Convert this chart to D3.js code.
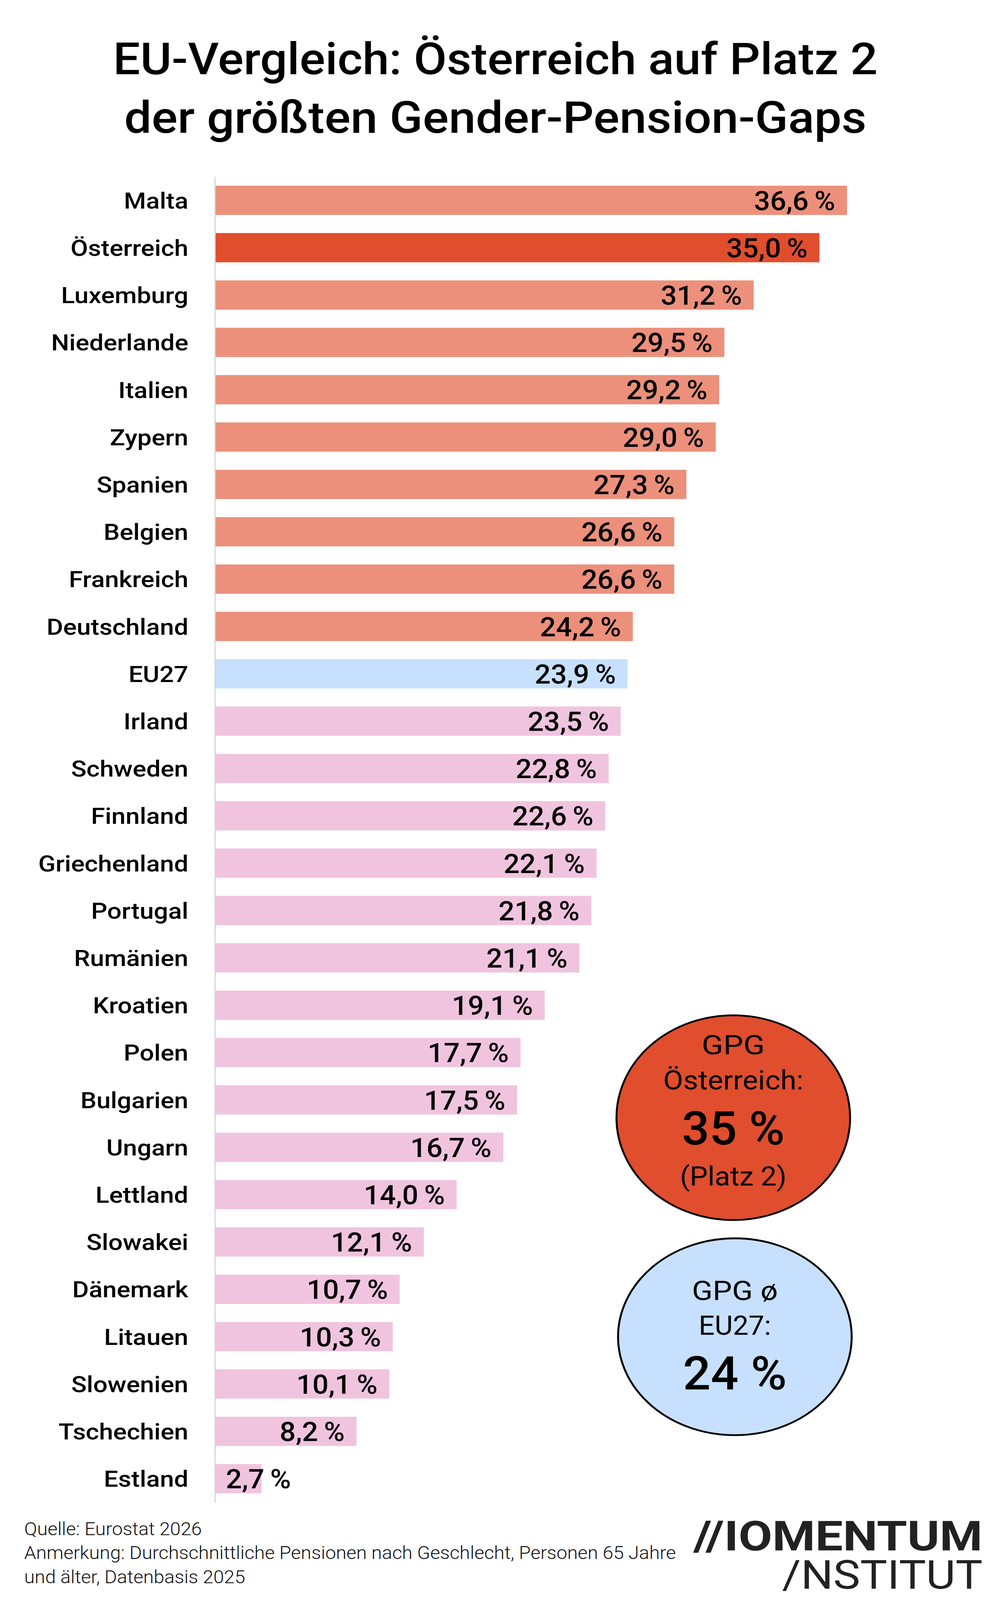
<!DOCTYPE html>
<html>
<head>
<meta charset="utf-8">
<script src="https://cdn.jsdelivr.net/npm/d3@7"></script>
<style>
  html, body { margin: 0; padding: 0; background: #ffffff; overflow: hidden; }
  svg { display: block; }
  text { font-family: Roboto, "Noto Sans", sans-serif; }
</style>
</head>
<body>
<svg id="chart"></svg>
<script>
// ---------- data ----------
const categories = ["Malta","Österreich","Luxemburg","Niederlande","Italien","Zypern","Spanien","Belgien","Frankreich","Deutschland","EU27","Irland","Schweden","Finnland","Griechenland","Portugal","Rumänien","Kroatien","Polen","Bulgarien","Ungarn","Lettland","Slowakei","Dänemark","Litauen","Slowenien","Tschechien","Estland"];
const values = [36.6,35.0,31.2,29.5,29.2,29.0,27.3,26.6,26.6,24.2,23.9,23.5,22.8,22.6,22.1,21.8,21.1,19.1,17.7,17.5,16.7,14.0,12.1,10.7,10.3,10.1,8.2,2.7];
const groups = ["top","at","top","top","top","top","top","top","top","top","eu","rest","rest","rest","rest","rest","rest","rest","rest","rest","rest","rest","rest","rest","rest","rest","rest","rest"];
const titleLines = ["EU-Vergleich: Österreich auf Platz 2", "der größten Gender-Pension-Gaps"];
const sourceLines = ["Quelle: Eurostat 2026", "Anmerkung: Durchschnittliche Pensionen nach Geschlecht, Personen 65 Jahre", "und älter, Datenbasis 2025"];
const austriaBadge = ["GPG", "Österreich:", "35 %", "(Platz 2)"];
const euBadge = ["GPG ø", "EU27:", "24 %"];
const logoLines = ["//IOMENTUM", "/NSTITUT"];

// ---------- styles ----------
const W = 2552, H = 4455;
const colors = { top: "#EC907B", at: "#E04E2E", eu: "#C7E0FD", rest: "#F0C4DF" };

// fit the whole 2552x4455 design into the actual viewport
const vpW = window.innerWidth || W, vpH = window.innerHeight || H;
const svg = d3.select("#chart")
  .attr("width", vpW).attr("height", vpH)
  .attr("viewBox", `0 0 ${W} ${H}`)
  .attr("preserveAspectRatio", "none");
svg.append("rect").attr("width", W).attr("height", H).attr("fill", "#fff");

const locale = d3.formatLocale({ decimal: ",", thousands: ".", grouping: [3], currency: ["", " €"] });
const fmt = locale.format(".1f");

function fitWidth(sel, target) {
  sel.each(function () {
    const w = this.getComputedTextLength();
    if (w > 0) d3.select(this).attr("textLength", target).attr("lengthAdjust", "spacingAndGlyphs");
  });
}
function scaleWidth(sel, f) {
  sel.each(function () {
    const w = this.getComputedTextLength();
    if (w > 0) d3.select(this).attr("textLength", w * f).attr("lengthAdjust", "spacingAndGlyphs");
  });
}

// ---------- title ----------
const titleBase = [207, 370];
const titleW = [1957, 1900];
svg.selectAll("text.title").data(titleLines).join("text")
  .attr("class", "title")
  .attr("x", 1268).attr("y", (d, i) => titleBase[i])
  .attr("text-anchor", "middle")
  .attr("font-size", 124).attr("font-weight", 500).attr("fill", "#000")
  .text(d => d)
  .each(function (d, i) { fitWidth(d3.select(this), titleW[i]); });

// ---------- scales ----------
const y = d3.scaleBand().domain(categories).range([492, 4183]).paddingInner(0.382).paddingOuter(0.19);
const x = d3.scaleLinear().domain([0, d3.max(values)]).range([550, 2168]);

const data = categories.map((c, i) => ({ c, v: values[i], g: groups[i] }));

// bars
svg.append("g").selectAll("rect").data(data).join("rect")
  .attr("x", x(0))
  .attr("y", d => y(d.c))
  .attr("width", d => x(d.v) - x(0))
  .attr("height", y.bandwidth())
  .attr("fill", d => colors[d.g]);

// axis with category labels
const axis = svg.append("g").attr("transform", `translate(${x(0)},0)`)
  .call(d3.axisLeft(y).tickSizeInner(0).tickSizeOuter(0).tickPadding(68));
axis.select(".domain").attr("stroke", "#d6d6d6").attr("stroke-width", 3);
const labels = axis.selectAll(".tick text")
  .attr("font-family", "Roboto, sans-serif")
  .attr("font-size", 63).attr("font-weight", 500).attr("fill", "#000")
  .attr("dy", "0.36em");
let gw = 0;
labels.each(function (d) { if (d === "Griechenland") gw = this.getComputedTextLength(); });
scaleWidth(labels, gw > 0 ? 384 / gw : 1);

// value labels
const valueText = svg.append("g").selectAll("text").data(data).join("text")
  .attr("font-size", 75).attr("font-weight", 500).attr("fill", "#000")
  .attr("y", d => y(d.c) + y.bandwidth() / 2 + 27)
  .text(d => fmt(d.v) + "\u2009%");
let vw = 0;
valueText.each(function (d) { if (d.c === "Deutschland") vw = this.getComputedTextLength(); });
const valueFactor = vw > 0 ? 208 / vw : 1;
valueText.each(function (d) {
  const w = this.getComputedTextLength() * valueFactor;
  d3.select(this).attr("textLength", w).attr("lengthAdjust", "spacingAndGlyphs");
  const barW = x(d.v) - x(0);
  if (barW >= w + 55) d3.select(this).attr("x", x(d.v) - 30).attr("text-anchor", "end");
  else d3.select(this).attr("x", x(0) + 28).attr("text-anchor", "start");
});

// ---------- badges ----------
function badge(lines, cx, cy, rx, ry, fill, baselines, sizes, weights, widths) {
  const g = svg.append("g");
  g.append("ellipse").attr("cx", cx).attr("cy", cy).attr("rx", rx).attr("ry", ry)
    .attr("fill", fill).attr("stroke", "#000").attr("stroke-width", 5);
  g.selectAll("text").data(lines).join("text")
    .attr("x", cx).attr("y", (d, i) => baselines[i])
    .attr("text-anchor", "middle")
    .attr("font-size", (d, i) => sizes[i]).attr("font-weight", (d, i) => weights[i])
    .attr("fill", "#000")
    .text(d => d)
    .each(function (d, i) { fitWidth(d3.select(this), widths[i]); });
}
badge(austriaBadge, 1877, 3112, 299, 285, "#E04E2E",
  [2936, 3033, 3187, 3301], [74, 74, 130, 74], [400, 400, 500, 400], [162, 359, 263, 273]);
badge(euBadge, 1881, 3722, 299, 274, "#C7E0FD",
  [3620, 3717, 3869], [74, 74, 130], [400, 400, 500], [220, 185, 266]);

// ---------- footer ----------
const src = svg.append("g").selectAll("text").data(sourceLines).join("text")
  .attr("x", 62).attr("y", (d, i) => 4274 + i * 67)
  .attr("font-size", 50).attr("font-weight", 300).attr("fill", "#111")
  .text(d => d);
let sw = 0;
src.each(function (d, i) { if (i === 1) sw = this.getComputedTextLength(); });
scaleWidth(src, sw > 0 ? 1668 / sw : 1);

// ---------- logo (one text block, two lines) ----------
const logo = svg.append("text").attr("text-anchor", "end").attr("fill", "#222");
const logoSpec = [
  { y: 4317, size: 114, weight: 700, width: 740 },
  { y: 4423, size: 110, weight: 400, width: 513 }
];
logo.selectAll("tspan").data(logoLines).join("tspan")
  .attr("x", 2515).attr("y", (d, i) => logoSpec[i].y)
  .attr("font-size", (d, i) => logoSpec[i].size)
  .attr("font-weight", (d, i) => logoSpec[i].weight)
  .attr("textLength", (d, i) => logoSpec[i].width)
  .attr("lengthAdjust", "spacingAndGlyphs")
  .text(d => d);
</script>
</body>
</html>
